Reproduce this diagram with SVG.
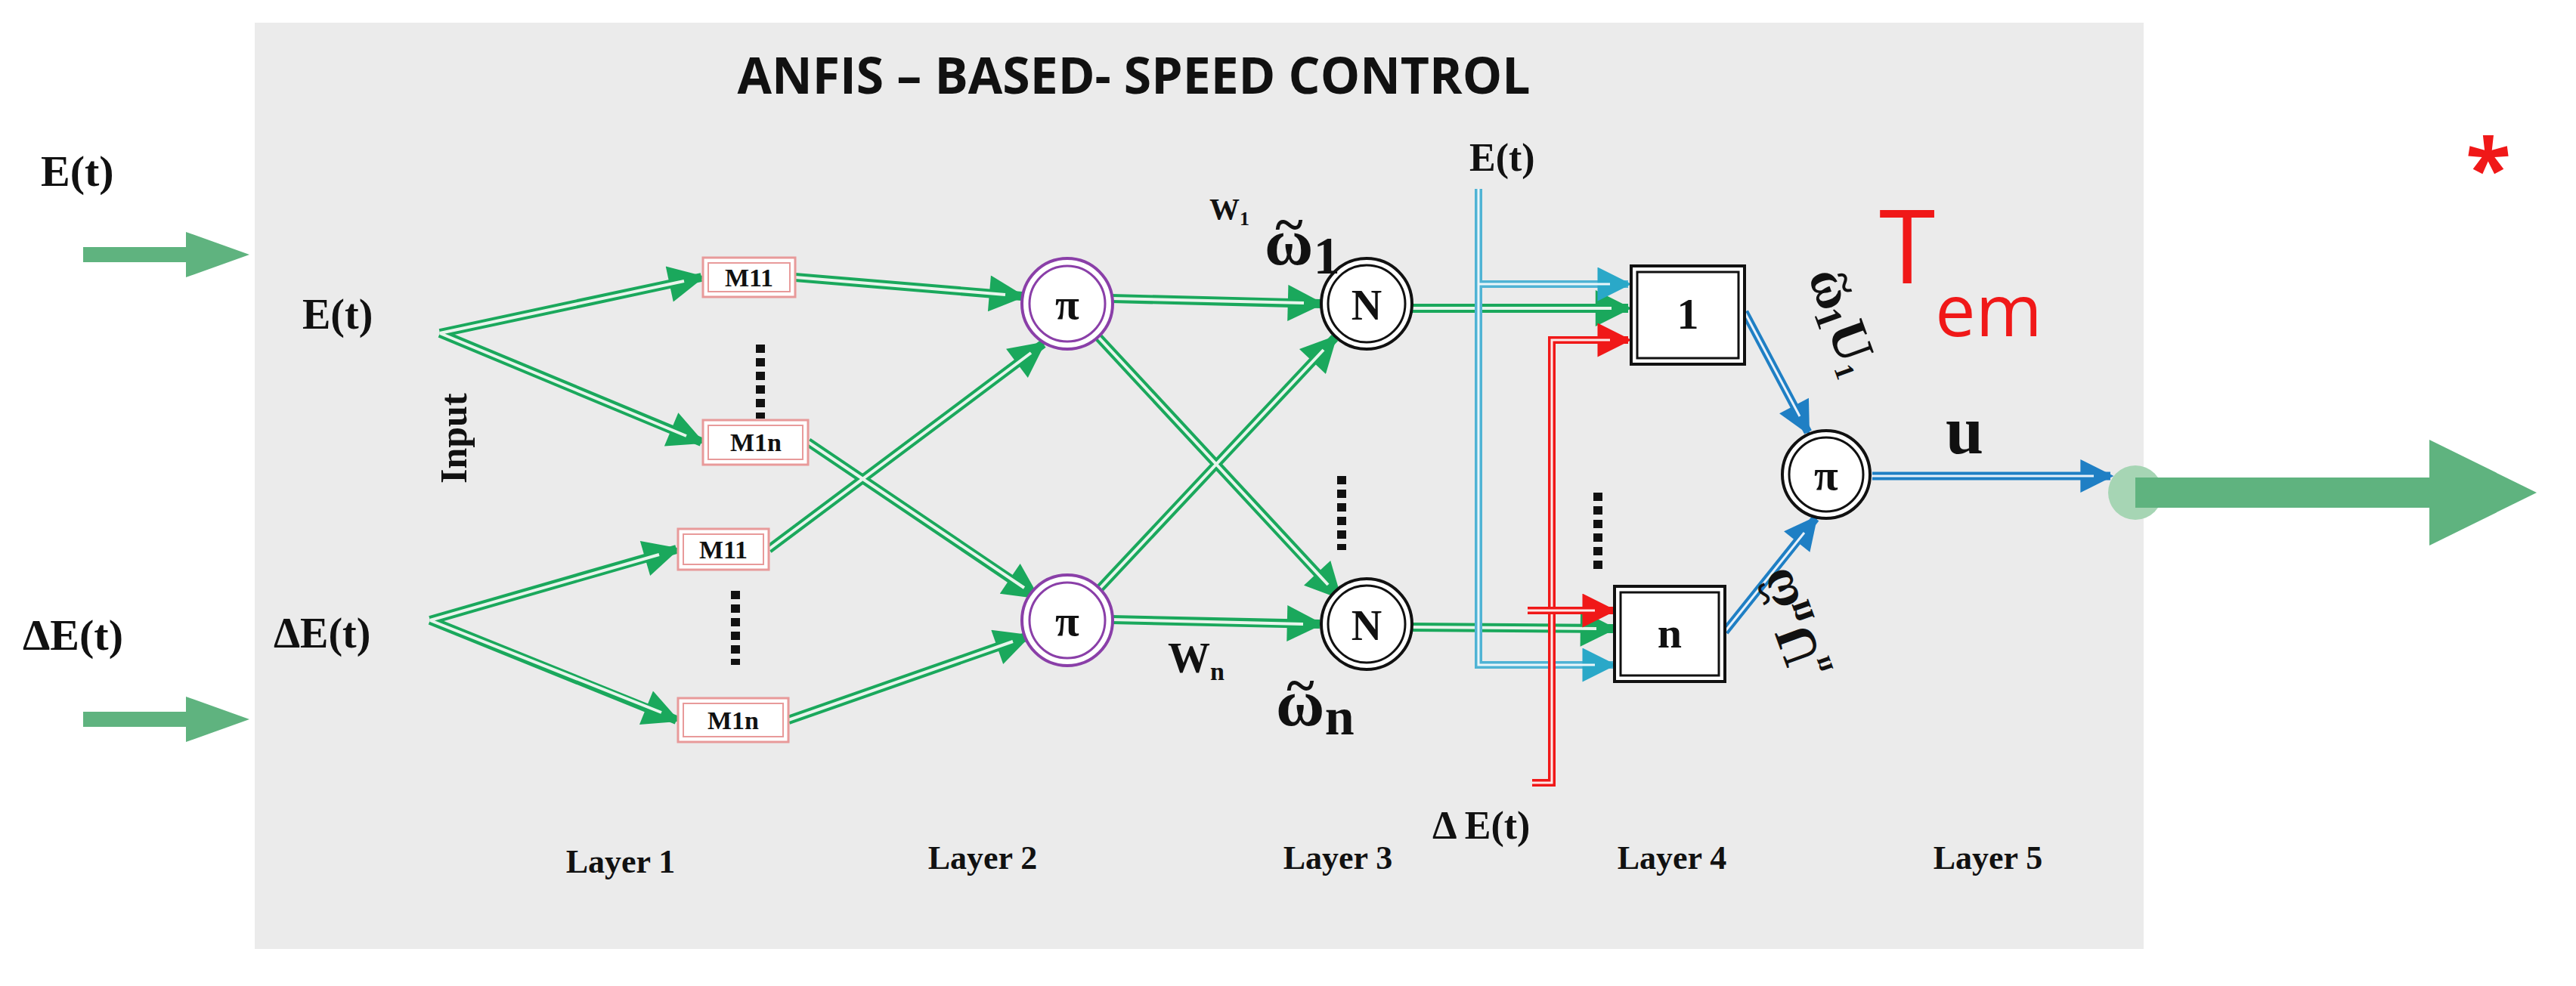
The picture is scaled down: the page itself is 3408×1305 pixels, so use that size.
<svg xmlns="http://www.w3.org/2000/svg" width="3408" height="1305" viewBox="0 0 3408 1305">
<style>
.sf{font-family:"Liberation Serif",serif;font-weight:bold;fill:#111}
.g{fill:none;stroke:#1aa85c;stroke-width:12}
.gi{fill:none;stroke:#e8f5ec;stroke-width:4}
.b{fill:none;stroke:#1f7fc4;stroke-width:11}
.bi{fill:none;stroke:#e8f1fa;stroke-width:3}
.c{fill:none;stroke:#4fb3d4;stroke-width:10}
.ci{fill:none;stroke:#eaf6fa;stroke-width:3}
.r{fill:none;stroke:#f01818;stroke-width:10}
.ri{fill:none;stroke:#fde8e8;stroke-width:3}
.mbox rect.o{fill:#fff;stroke:#e89a9a;stroke-width:3}
.mbox rect.i{fill:#fff;stroke:#e89a9a;stroke-width:2}
.dots{stroke:#111;stroke-width:12;stroke-dasharray:11 7}
</style>
<defs>
<marker id="ag" viewBox="0 0 10 10" refX="9" refY="5" markerWidth="4.5" markerHeight="4" orient="auto" markerUnits="strokeWidth"><path d="M0,0L10,5L0,10z" fill="#1aa85c"/></marker>
<marker id="ab" viewBox="0 0 10 10" refX="9" refY="5" markerWidth="4.5" markerHeight="4" orient="auto" markerUnits="strokeWidth"><path d="M0,0L10,5L0,10z" fill="#1f7fc4"/></marker>
<marker id="ac" viewBox="0 0 10 10" refX="9" refY="5" markerWidth="5" markerHeight="4.5" orient="auto" markerUnits="strokeWidth"><path d="M0,0L10,5L0,10z" fill="#2aa8c8"/></marker>
<marker id="ar" viewBox="0 0 10 10" refX="9" refY="5" markerWidth="5" markerHeight="4.5" orient="auto" markerUnits="strokeWidth"><path d="M0,0L10,5L0,10z" fill="#f01818"/></marker>
</defs>
<rect width="3408" height="1305" fill="#fff"/>
<rect x="337" y="30" width="2499" height="1226" fill="#ebebeb"/>
<text x="1500" y="124" text-anchor="middle" font-family="Open Sans,sans-serif" font-weight="bold" font-size="66" fill="#111">ANFIS – BASED- SPEED CONTROL</text>

<g id="inputs-outer">
<text class="sf" x="54" y="246" font-size="58">E(t)</text>
<text class="sf" x="30" y="860" font-size="58">ΔE(t)</text>
<path d="M110,337H250" stroke="#5fb37f" stroke-width="20"/><path d="M246,307L330,337L246,367z" fill="#5fb37f"/>
<path d="M110,952H250" stroke="#5fb37f" stroke-width="20"/><path d="M246,922L330,952L246,982z" fill="#5fb37f"/>
</g>
<g id="inner-labels">
<text class="sf" x="400" y="435" font-size="56">E(t)</text>
<text class="sf" x="362" y="857" font-size="56">ΔE(t)</text>
<text class="sf" font-size="50" transform="translate(617,640) rotate(-90)">Input</text>
</g>

<g id="connectors">
<path class="g" marker-end="url(#ag)" d="M582,441L928,367"/>
<path class="g" marker-end="url(#ag)" d="M582,441L928,585"/>
<path class="g" marker-end="url(#ag)" d="M569,821L895,727"/>
<path class="g" marker-end="url(#ag)" d="M569,821L895,953"/>
<path class="g" marker-end="url(#ag)" d="M1052,367L1352,392"/>
<path class="g" marker-end="url(#ag)" d="M1069,585L1372,790"/>
<path class="g" marker-end="url(#ag)" d="M1017,727L1380,455"/>
<path class="g" marker-end="url(#ag)" d="M1043,953L1360,842"/>
<path class="g" marker-end="url(#ag)" d="M1470,395L1747,402"/>
<path class="g" marker-end="url(#ag)" d="M1452,445L1772,790"/>
<path class="g" marker-end="url(#ag)" d="M1452,782L1766,447"/>
<path class="g" marker-end="url(#ag)" d="M1470,820L1746,826"/>
<path class="g" marker-end="url(#ag)" d="M1868,408L2154,408"/>
<path class="g" marker-end="url(#ag)" d="M1868,830L2134,832"/>
<path class="gi" d="M582,441L905,372M582,441L908,577M569,821L872,734M569,821L875,943M1052,367L1330,390M1069,585L1355,778M1017,727L1364,467M1043,953L1340,849M1470,395L1725,401M1452,445L1757,774M1452,782L1751,463M1470,820L1724,826M1868,408L2132,408M1868,830L2112,832"/>
<path class="c" marker-end="url(#ac)" d="M1956,250V880H2134"/>
<path class="c" marker-end="url(#ac)" d="M1956,376H2154"/>
<path class="ci" d="M1956,250V880H2110M1956,376H2130"/>
<path class="r" marker-end="url(#ar)" d="M2027,1036H2053V450H2154"/>
<path class="ri" d="M2027,1036H2053V450H2130"/>
<path class="r" marker-end="url(#ar)" d="M2021,808H2134"/>
<path class="ri" d="M2021,808H2110"/>
<path class="b" marker-end="url(#ab)" d="M2308,413L2392,572"/>
<path class="b" marker-end="url(#ab)" d="M2282,836L2402,686"/>
<path class="b" marker-end="url(#ab)" d="M2477,630H2792"/>
<path class="bi" d="M2308,413L2381,551M2282,836L2387,705M2477,630H2770"/>
</g>

<g id="m11-top" class="mbox"><rect class="o" x="930" y="341" width="122" height="52"/><rect class="i" x="937" y="348" width="108" height="38"/><text class="sf" x="991" y="379" font-size="34" text-anchor="middle">M11</text></g>
<g id="m1n-top" class="mbox"><rect class="o" x="930" y="556" width="139" height="59"/><rect class="i" x="937" y="563" width="125" height="45"/><text class="sf" x="1000" y="597" font-size="34" text-anchor="middle">M1n</text></g>
<g id="m11-bot" class="mbox"><rect class="o" x="897" y="700" width="120" height="54"/><rect class="i" x="904" y="707" width="106" height="40"/><text class="sf" x="957" y="739" font-size="34" text-anchor="middle">M11</text></g>
<g id="m1n-bot" class="mbox"><rect class="o" x="897" y="924" width="146" height="58"/><rect class="i" x="904" y="931" width="132" height="44"/><text class="sf" x="970" y="965" font-size="34" text-anchor="middle">M1n</text></g>
<g id="dots"><path class="dots" d="M1006,456V554M973,782V880M1775,630V728M2114,652V760"/></g>

<g id="pi-top"><circle cx="1412" cy="402" r="60" fill="#fff" stroke="#8a3fa8" stroke-width="4"/><circle cx="1412" cy="402" r="50" fill="#fff" stroke="#8a3fa8" stroke-width="3"/><text class="sf" x="1412" y="422" font-size="58" text-anchor="middle">π</text></g>
<g id="pi-bot"><circle cx="1412" cy="821" r="60" fill="#fff" stroke="#8a3fa8" stroke-width="4"/><circle cx="1412" cy="821" r="50" fill="#fff" stroke="#8a3fa8" stroke-width="3"/><text class="sf" x="1412" y="841" font-size="58" text-anchor="middle">π</text></g>
<text class="sf" x="1600" y="290" font-size="40">W<tspan font-size="26" dy="8">1</tspan></text>
<text class="sf" x="1545" y="890" font-size="56">W<tspan font-size="34" dy="10">n</tspan></text>

<g id="n-top"><circle cx="1808" cy="402" r="60" fill="#fff" stroke="#111" stroke-width="4"/><circle cx="1808" cy="402" r="51" fill="#fff" stroke="#111" stroke-width="3"/><text class="sf" x="1808" y="423" font-size="56" text-anchor="middle">N</text></g>
<g id="n-bot"><circle cx="1808" cy="826" r="60" fill="#fff" stroke="#111" stroke-width="4"/><circle cx="1808" cy="826" r="51" fill="#fff" stroke="#111" stroke-width="3"/><text class="sf" x="1808" y="847" font-size="56" text-anchor="middle">N</text></g>
<text class="sf" x="1673" y="350" font-size="88">ω<tspan font-size="70" dx="-50" dy="-30">~</tspan><tspan font-size="70" dx="14" dy="42">1</tspan></text>
<text class="sf" x="1688" y="960" font-size="88">ω<tspan font-size="70" dx="-50" dy="-30">~</tspan><tspan font-size="70" dx="14" dy="42">n</tspan></text>

<text class="sf" x="1944" y="226" font-size="52">E(t)</text>
<text class="sf" x="1895" y="1110" font-size="52">Δ E(t)</text>

<g id="box-1"><rect x="2158" y="352" width="150" height="130" fill="#fff" stroke="#111" stroke-width="4"/><rect x="2166" y="360" width="134" height="114" fill="#fff" stroke="#111" stroke-width="3"/><text class="sf" x="2233" y="435" font-size="58" text-anchor="middle">1</text></g>
<g id="box-n"><rect x="2136" y="776" width="146" height="126" fill="#fff" stroke="#111" stroke-width="4"/><rect x="2144" y="784" width="130" height="110" fill="#fff" stroke="#111" stroke-width="3"/><text class="sf" x="2209" y="857" font-size="58" text-anchor="middle">n</text></g>
<text class="sf" font-size="72" transform="translate(2392,365) rotate(70)">ω<tspan font-size="56" dx="-42" dy="-24">~</tspan><tspan font-size="50" dx="10" dy="34">1</tspan><tspan dy="-10">U</tspan><tspan font-size="36" dy="10">1</tspan></text>
<text class="sf" font-size="72" transform="translate(2365,748) rotate(-110) scale(-1,1)">ω<tspan font-size="56" dx="-42" dy="-24">~</tspan><tspan font-size="50" dx="10" dy="34">n</tspan><tspan dy="-10">U</tspan><tspan font-size="36" dy="10">n</tspan></text>

<g id="pi-out"><circle cx="2416" cy="628" r="58" fill="#fff" stroke="#111" stroke-width="4"/><circle cx="2416" cy="628" r="49" fill="#fff" stroke="#111" stroke-width="3"/><text class="sf" x="2416" y="648" font-size="58" text-anchor="middle">π</text></g>
<text class="sf" x="2574" y="600" font-size="90">u</text>

<g id="output">
<circle cx="2825" cy="652" r="36" fill="#a6d5b4"/>
<path d="M2825,632H3220V672H2825z" fill="#5fb37f"/>
<path d="M3214,582L3356,652L3214,722z" fill="#5fb37f"/>
<text x="2486" y="375" font-family="Open Sans,sans-serif" font-size="135" fill="#f01818">T<tspan font-size="95" dy="70">em</tspan></text>
<text x="3262" y="262" font-family="Open Sans,sans-serif" font-size="110" font-weight="bold" fill="#f01818">*</text>
</g>

<g id="layers" class="sf" font-size="44" text-anchor="middle">
<text x="821" y="1155">Layer 1</text><text x="1300" y="1150">Layer 2</text><text x="1770" y="1150">Layer 3</text><text x="2212" y="1150">Layer 4</text><text x="2630" y="1150">Layer 5</text>
</g>
</svg>
